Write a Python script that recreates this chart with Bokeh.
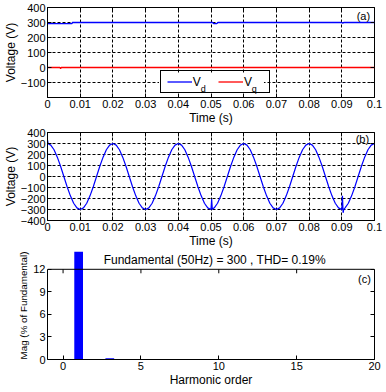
from bokeh.plotting import figure
from bokeh.models import Range1d, FixedTicker, LinearAxis, Legend, LegendItem, Label, BoxAnnotation, Span, Title
from bokeh.core.properties import value
from bokeh.layouts import column
from bokeh.embed import file_html
from bokeh.resources import INLINE

FONT = "Liberation Sans"

# ---------------- data ----------------
# (a) dq voltages
t_vd = [0, 0.0075, 0.0076, 0.0505, 0.0508, 0.0518, 0.0521, 0.0900, 0.0903, 0.0906, 0.1]
vd = [293, 293, 300, 300, 293, 293, 300, 300, 295, 300, 300]
t_vq = [0, 0.0038, 0.0040, 0.0042, 0.1]
vq = [0, 0, -8, 0, 0]

# (b) phase voltage (time in ms)
t_b_ms = [0, 0.2] + list(range(1, 51)) + [50.2, 50.4] + list(range(51, 91)) + [90.2, 90.4, 90.6] + list(range(91, 101))
v_b = [330, 298,
       285, 243, 176, 93, 0, -93, -176, -243, -285, -300,
       -285, -243, -176, -93, 0, 93, 176, 243, 285, 300,
       285, 243, 176, 93, 0, -93, -176, -243, -285, -300,
       -285, -243, -176, -93, 0, 93, 176, 243, 285, 300,
       285, 243, 176, 93, 0, -93, -176, -243, -285, -300,
       -205, -298,
       -285, -243, -176, -93, 0, 93, 176, 243, 285, 300,
       285, 243, 176, 93, 0, -93, -176, -243, -285, -300,
       -285, -243, -176, -93, 0, 93, 176, 243, 285, 300,
       285, 243, 176, 93, 0, -93, -176, -243, -285, -300,
       -175, -330, -300,
       -285, -243, -176, -93, 0, 93, 176, 243, 285, 300]
t_b = [t / 1000.0 for t in t_b_ms]

# (c) harmonic spectrum
harm_order = [0, 1, 2, 3, 4, 5, 6, 7, 8, 9, 10, 11, 12, 13, 14, 15, 16, 17, 18, 19, 20]
harm_mag = [0, 100, 0, 0.15, 0, 0, 0, 0, 0, 0, 0, 0, 0, 0, 0, 0, 0, 0, 0, 0, 0]
bar_width = 0.56

time_ticks = [0, 0.01, 0.02, 0.03, 0.04, 0.05, 0.06, 0.07, 0.08, 0.09, 0.1]
time_tick_labels = ["0", "0.01", "0.02", "0.03", "0.04", "0.05", "0.06", "0.07", "0.08", "0.09", "0.1"]
ya_ticks = [-100, 0, 100, 200, 300, 400]
yb_ticks = [-400, -300, -200, -100, 0, 100, 200, 300, 400]
xc_ticks = [0, 5, 10, 15, 20]
yc_ticks = [0, 3, 6, 9, 12]

legend_main = ["V", "V"]
legend_sub = ["d", "q"]
title_c = "Fundamental (50Hz) = 300 , THD= 0.19%"
ylabel_c = "Mag (% of Fundamental)"

BLUE = "#0000FF"
RED = "#FF0000"


def base_fig(height, xr, yr, top, bottom, left, right, outline=True):
    p = figure(width=386, height=height, x_range=Range1d(*xr), y_range=Range1d(*yr),
               output_backend="svg", toolbar_location=None,
               min_border_top=top, min_border_bottom=bottom,
               min_border_left=left, min_border_right=right)
    p.outline_line_color = "black" if outline else None
    p.outline_line_alpha = 1.0
    p.outline_line_width = 1
    p.background_fill_color = "white"
    p.border_fill_color = "white"
    return p


def style_axis(ax):
    ax.major_tick_in = 4
    ax.major_tick_out = 0
    ax.minor_tick_line_color = None
    ax.major_tick_line_color = "black"
    ax.axis_line_color = "black"
    ax.major_label_text_font = FONT
    ax.major_label_text_font_size = "11px"
    ax.major_label_text_color = "black"
    ax.major_label_standoff = 2
    ax.axis_label_text_font = FONT
    ax.axis_label_text_font_size = "12px"
    ax.axis_label_text_font_style = "normal"
    ax.axis_label_text_color = "black"
    ax.axis_label_standoff = 0


def mirror_axis(ticks, **kw):
    return LinearAxis(ticker=FixedTicker(ticks=ticks), major_label_text_font_size="0px",
                      major_label_standoff=0, major_tick_in=4, major_tick_out=0,
                      minor_tick_line_color=None, major_tick_line_color="black", **kw)


def style_time_panel(p, yticks):
    p.xaxis.ticker = FixedTicker(ticks=time_ticks)
    p.yaxis.ticker = FixedTicker(ticks=yticks)
    for ax in list(p.xaxis) + list(p.yaxis):
        style_axis(ax)
    p.xaxis.axis_label = "Time (s)"
    p.yaxis.axis_label = "Voltage (V)"
    p.xaxis.major_label_overrides = {t: s for t, s in zip(time_ticks, time_tick_labels)}
    p.xgrid.ticker = FixedTicker(ticks=time_ticks)
    p.ygrid.ticker = FixedTicker(ticks=yticks)
    for g in (p.xgrid, p.ygrid):
        g.grid_line_color = "black"
        g.grid_line_dash = "3 2"
        g.grid_line_width = 1
        g.grid_line_alpha = 1.0
    p.add_layout(mirror_axis(time_ticks, axis_line_color=None), "above")
    p.add_layout(mirror_axis(yticks, axis_line_color=None), "right")


def panel_label(p, text, x, y):
    p.add_layout(Label(x=x, y=y, text=text, text_font=FONT, text_font_size="11px",
                       text_align="center", text_baseline="middle", text_color="black",
                       level="overlay"))


# ---------------- (a) ----------------
pa = base_fig(127, (0, 0.1), (-200, 400), 7, 29, 44, 9)
style_time_panel(pa, ya_ticks)
pa.add_layout(BoxAnnotation(left=0.0341, right=0.0662, bottom=-172, top=-36,
                            fill_color="white", fill_alpha=1.0, line_color=None,
                            level="underlay"))
r_d = pa.line(t_vd, vd, line_color=BLUE, line_width=1.3)
r_q = pa.line(t_vq, vq, line_color=RED, line_width=1.3)
leg = Legend(items=[LegendItem(label=" ", renderers=[r_d]), LegendItem(label=" ", renderers=[r_q])],
             orientation="horizontal", location=(113, 4), margin=0, padding=6,
             glyph_width=25, glyph_height=9, label_height=9, label_width=16,
             label_standoff=4, spacing=6, border_line_color="black", border_line_width=1,
             border_line_alpha=1.0, background_fill_alpha=0.0,
             label_text_font=FONT, label_text_font_size="12px")
pa.add_layout(leg, "center")
pa.text(x=[0.04444, 0.06006], y=[-94, -94], text=legend_main, text_font=value(FONT),
        text_font_size=value("12px"), text_baseline="middle", text_align="left",
        text_color="black")
pa.text(x=[0.04684, 0.06246], y=[-141, -141], text=legend_sub, text_font=value(FONT),
        text_font_size=value("9px"), text_baseline="middle", text_align="left",
        text_color="black")
panel_label(pa, "(a)", 0.0966, 345)

# ---------------- (b) ----------------
pb = base_fig(123, (0, 0.1), (-400, 400), 5, 29, 44, 9)
style_time_panel(pb, yb_ticks)
pb.line(t_b, v_b, line_color=BLUE, line_width=1.2)
panel_label(pb, "(b)", 0.0963, 343)

# ---------------- (c) ----------------
# the drawing area reaches above the axes box so that the clipped
# fundamental bar runs up past it, as in the original figure
yc_top = yc_ticks[-1]
tick_len_c = 0.53
pc = base_fig(139, (-1, 20), (0, 14.37), 1, 29, 47, 12, outline=False)
pc.xaxis.ticker = FixedTicker(ticks=xc_ticks)
pc.yaxis.ticker = FixedTicker(ticks=yc_ticks)
for ax in list(pc.xaxis) + list(pc.yaxis):
    style_axis(ax)
pc.yaxis.bounds = (0, yc_top)
pc.xaxis.axis_label = "Harmonic order"
pc.xgrid.grid_line_color = None
pc.ygrid.grid_line_color = None
pc.add_layout(mirror_axis(yc_ticks, axis_line_color="black", bounds=(0, yc_top)), "right")
pc.add_layout(Title(text=ylabel_c, align="center", standoff=4,
                    text_font=FONT, text_font_size="9.8px", text_font_style="normal",
                    text_color="black"), "left")
pc.add_layout(Span(location=yc_top, dimension="width", line_color="black", line_width=1))
pc.segment(x0=xc_ticks, y0=[yc_top] * len(xc_ticks), x1=xc_ticks,
           y1=[yc_top - tick_len_c] * len(xc_ticks), line_color="black", line_width=1)
pc.vbar(x=harm_order, top=harm_mag, width=bar_width, bottom=0, fill_color=BLUE, line_color=None)
pc.add_layout(Label(x=9.74, y=13.19, text=title_c, text_font=FONT, text_font_size="12px",
                    text_align="center", text_baseline="middle", text_color="black",
                    level="overlay"))
panel_label(pc, "(c)", 19.35, 10.68)

layout = column(pa, pb, pc)
open("out.html", "w").write(file_html(layout, INLINE))
